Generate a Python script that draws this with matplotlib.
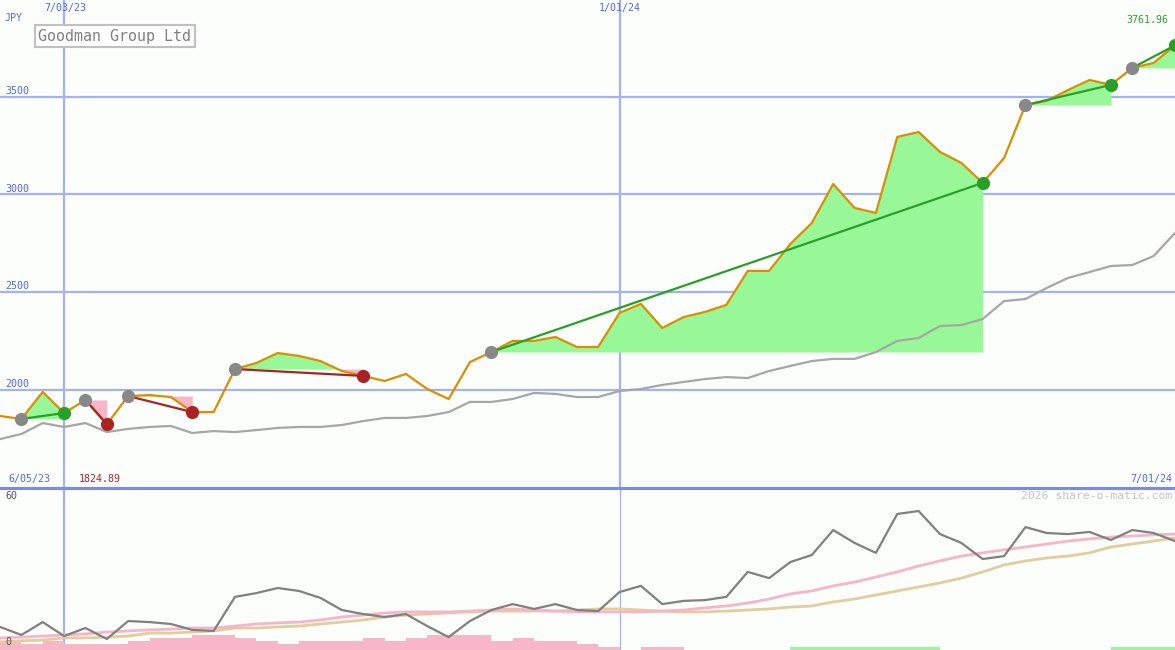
import matplotlib
matplotlib.use("Agg")
import matplotlib.pyplot as plt
from matplotlib.lines import Line2D
import numpy as np
import pandas as pd

# weekly closes, Goodman Group Ltd (JPY)
dates = pd.date_range("2023-06-12", periods=56, freq="7D")
price = [1867, 1852, 1990, 1882, 1949, 1824.89, 1969, 1974, 1964, 1887,
         1887, 2107, 2138, 2189, 2174, 2148, 2097, 2072, 2046, 2082,
         2005, 1954, 2143, 2194, 2251, 2251, 2271, 2220, 2220, 2394,
         2440, 2317, 2373, 2399, 2435, 2609, 2609, 2747, 2854, 3053,
         2931, 2905, 3294, 3319, 3217, 3161, 3059, 3186, 3457, 3478,
         3534, 3585, 3560, 3647, 3672, 3761.96]
avg = [1749, 1775, 1831, 1811, 1831, 1785, 1801, 1811, 1816, 1780,
       1790, 1785, 1795, 1806, 1811, 1811, 1821, 1841, 1857, 1857,
       1867, 1887, 1939, 1939, 1954, 1985, 1980, 1964, 1964, 1995,
       2005, 2026, 2041, 2056, 2066, 2061, 2097, 2123, 2148, 2159,
       2159, 2194, 2251, 2266, 2327, 2332, 2363, 2455, 2465, 2522,
       2573, 2603, 2634, 2639, 2685, 2803]

# trades: (entry index, exit index)
trades = [(1, 3), (4, 5), (6, 9), (11, 17), (23, 46), (48, 52), (53, 55)]

# lower panel
osc = [8.6, 5.6, 10.4, 5.2, 8.2, 4.1, 10.8, 10.4, 9.7, 7.5,
       7.1, 19.8, 21.2, 23.1, 22.0, 19.4, 14.9, 13.4, 12.3, 13.4,
       8.9, 4.8, 10.8, 14.9, 17.1, 15.3, 17.1, 14.9, 14.5, 21.6,
       23.9, 17.1, 18.3, 18.6, 19.8, 29.1, 26.8, 32.8, 35.4, 44.7,
       39.9, 36.2, 50.7, 51.8, 43.2, 39.9, 33.9, 35.0, 45.8, 43.6,
       43.2, 44.0, 41.0, 44.7, 43.6, 40.6]
osc_fast = [4.5, 4.8, 5.2, 5.6, 6.0, 6.7, 7.1, 7.5, 7.8, 8.2,
            8.2, 8.9, 9.7, 10.1, 10.4, 11.2, 12.3, 13.0, 13.8, 14.2,
            14.2, 14.2, 14.5, 14.9, 15.3, 14.9, 14.5, 14.2, 14.2, 14.2,
            14.2, 14.5, 14.9, 15.7, 16.4, 17.5, 19.0, 20.9, 22.0, 23.9,
            25.3, 27.2, 29.1, 31.3, 33.2, 35.0, 36.2, 37.3, 38.4, 39.5,
            40.6, 41.4, 42.1, 42.5, 42.9, 43.2]
osc_slow = [3.0, 3.4, 3.7, 4.5, 4.5, 4.8, 5.2, 6.3, 6.3, 6.7,
            7.1, 8.2, 8.2, 8.6, 8.9, 9.7, 10.4, 11.2, 12.3, 13.0,
            13.4, 13.8, 14.2, 14.5, 14.5, 14.5, 14.5, 14.9, 15.3, 15.3,
            14.9, 14.5, 14.2, 14.2, 14.5, 14.9, 15.3, 16.0, 16.4, 17.9,
            19.0, 20.5, 22.0, 23.5, 25.0, 26.8, 29.1, 31.7, 33.2, 34.3,
            35.0, 36.2, 38.4, 39.5, 40.6, 41.7]
bars_down = [3.4, 2.2, 3.4, 2.2, 2.2, 2.2, 3.4, 4.5, 4.5, 5.6,
             5.6, 4.5, 3.4, 2.2, 3.4, 3.4, 3.4, 4.5, 3.4, 4.5,
             5.6, 5.6, 5.6, 3.4, 4.5, 3.4, 3.4, 2.2, 1.1, 0,
             1.1, 1.1] + [0] * 24
bars_up = [0] * 37 + [1.1] * 7 + [0] * 8 + [1.1] * 3 + [0]

bg = "#fcfefc"
grid = "#a4b2f0"
blue = "#5566e6"
orange = "#dd8d00"
green_fill = "#98f898"
pink_fill = "#f9b6c8"
win_c = "#28a028"
loss_c = "#a82424"

W, H = 1175, 650
fig = plt.figure(figsize=(W / 100, H / 100), dpi=100, facecolor=bg)

def fx(x):
    return x / W

def fy(y):
    return 1 - y / H

ax = fig.add_axes([0, fy(487), 1, 487 / H], facecolor=bg)
ax2 = fig.add_axes([0, 0, 1, 161 / H], facecolor=bg)
for a in (ax, ax2):
    for s in a.spines.values():
        s.set_visible(False)
    a.set_xticks([])
    a.set_yticks([])
    a.set_xlim(dates[0], dates[-1])

ax.set_ylim(1504, 3994)
ax2.set_ylim(0, 60)

# grid
for lvl in [2000, 2500, 3000, 3500]:
    ax.axhline(lvl, color=grid, lw=1.6, zorder=0)
for d in ["2023-07-03", "2024-01-01"]:
    ax.axvline(pd.Timestamp(d), color=grid, lw=1.6, zorder=0)
ax2.axvline(pd.Timestamp("2023-07-03"), color=grid, lw=1.6, zorder=0)
ax2.axvline(pd.Timestamp("2024-01-01"), color=grid, lw=0.9, zorder=0)

p = np.array(price)
for i, j in trades:
    seg_x = dates[i:j + 1]
    seg_y = p[i:j + 1]
    base = p[i]
    ax.fill_between(seg_x, seg_y, base, where=seg_y >= base, interpolate=True,
                    color=green_fill, lw=0, zorder=1)
    ax.fill_between(seg_x, seg_y, base, where=seg_y < base, interpolate=True,
                    color=pink_fill, lw=0, zorder=1)

ax.plot(dates, avg, color="#a6a6a6", lw=1.6, zorder=2)
ax.plot(dates, price, color=orange, lw=1.6, zorder=3)

for i, j in trades:
    c = win_c if p[j] > p[i] else loss_c
    ax.plot([dates[i], dates[j]], [p[i], p[j]], color=c, lw=1.6, zorder=4)
    ax.plot(dates[j], p[j], "o", color=c, ms=9.5, mec="none", zorder=5)
    ax.plot(dates[i], p[i], "o", color="#888888", ms=9.5, mec="none", zorder=5)

# lower panel
ax2.bar(dates, bars_down, width=7, align="edge", color=pink_fill, lw=0, zorder=1)
ax2.bar(dates, bars_up, width=7, align="edge", color=green_fill, lw=0, zorder=1)
ax2.plot(dates, osc_slow, color="#e4cc9c", lw=2, zorder=2)
ax2.plot(dates, osc_fast, color="#f8b4c8", lw=2, zorder=2)
ax2.plot(dates, osc, color="#808080", lw=1.6, zorder=3)

fig.add_artist(Line2D([0, 1], [fy(487.5), fy(487.5)], color="#7a8aec", lw=2.2))

mono = "DejaVu Sans Mono"
small = 7.2
fig.text(fx(5), fy(18), "JPY", color=blue, fontsize=small, family=mono, va="center")
for lvl, yy in [(3500, 91), (3000, 189), (2500, 286), (2000, 384)]:
    fig.text(fx(5), fy(yy), str(lvl), color=blue, fontsize=small, family=mono, va="center")
fig.text(fx(65), fy(8), "7/03/23", color=blue, fontsize=small, family=mono,
         ha="center", va="center")
fig.text(fx(620), fy(8), "1/01/24", color=blue, fontsize=small, family=mono,
         ha="center", va="center")
fig.text(fx(1168), fy(20), "3761.96", color=win_c, fontsize=small, family=mono,
         ha="right", va="center")
fig.text(fx(8), fy(479), "6/05/23", color=blue, fontsize=small, family=mono, va="center")
fig.text(fx(79), fy(479), "1824.89", color=loss_c, fontsize=small, family=mono, va="center")
fig.text(fx(1172), fy(479), "7/01/24", color=blue, fontsize=small, family=mono,
         ha="right", va="center")
fig.text(fx(5), fy(496), "60", color="#555555", fontsize=small, family=mono, va="center")
fig.text(fx(5), fy(642), "0", color="#555555", fontsize=small, family=mono, va="center")
fig.text(fx(1172), fy(496), "2026 share-o-matic.com", color="#c4c4c4", fontsize=8.2,
         family=mono, ha="right", va="center")
fig.text(fx(115), fy(36), "Goodman Group Ltd", color="#808080", fontsize=10.8,
         family=mono, ha="center", va="center",
         bbox=dict(boxstyle="square,pad=0.25", fc="white", ec="#c0c0c0", lw=1.5))

fig.savefig("out.png", dpi=100, facecolor=bg)
